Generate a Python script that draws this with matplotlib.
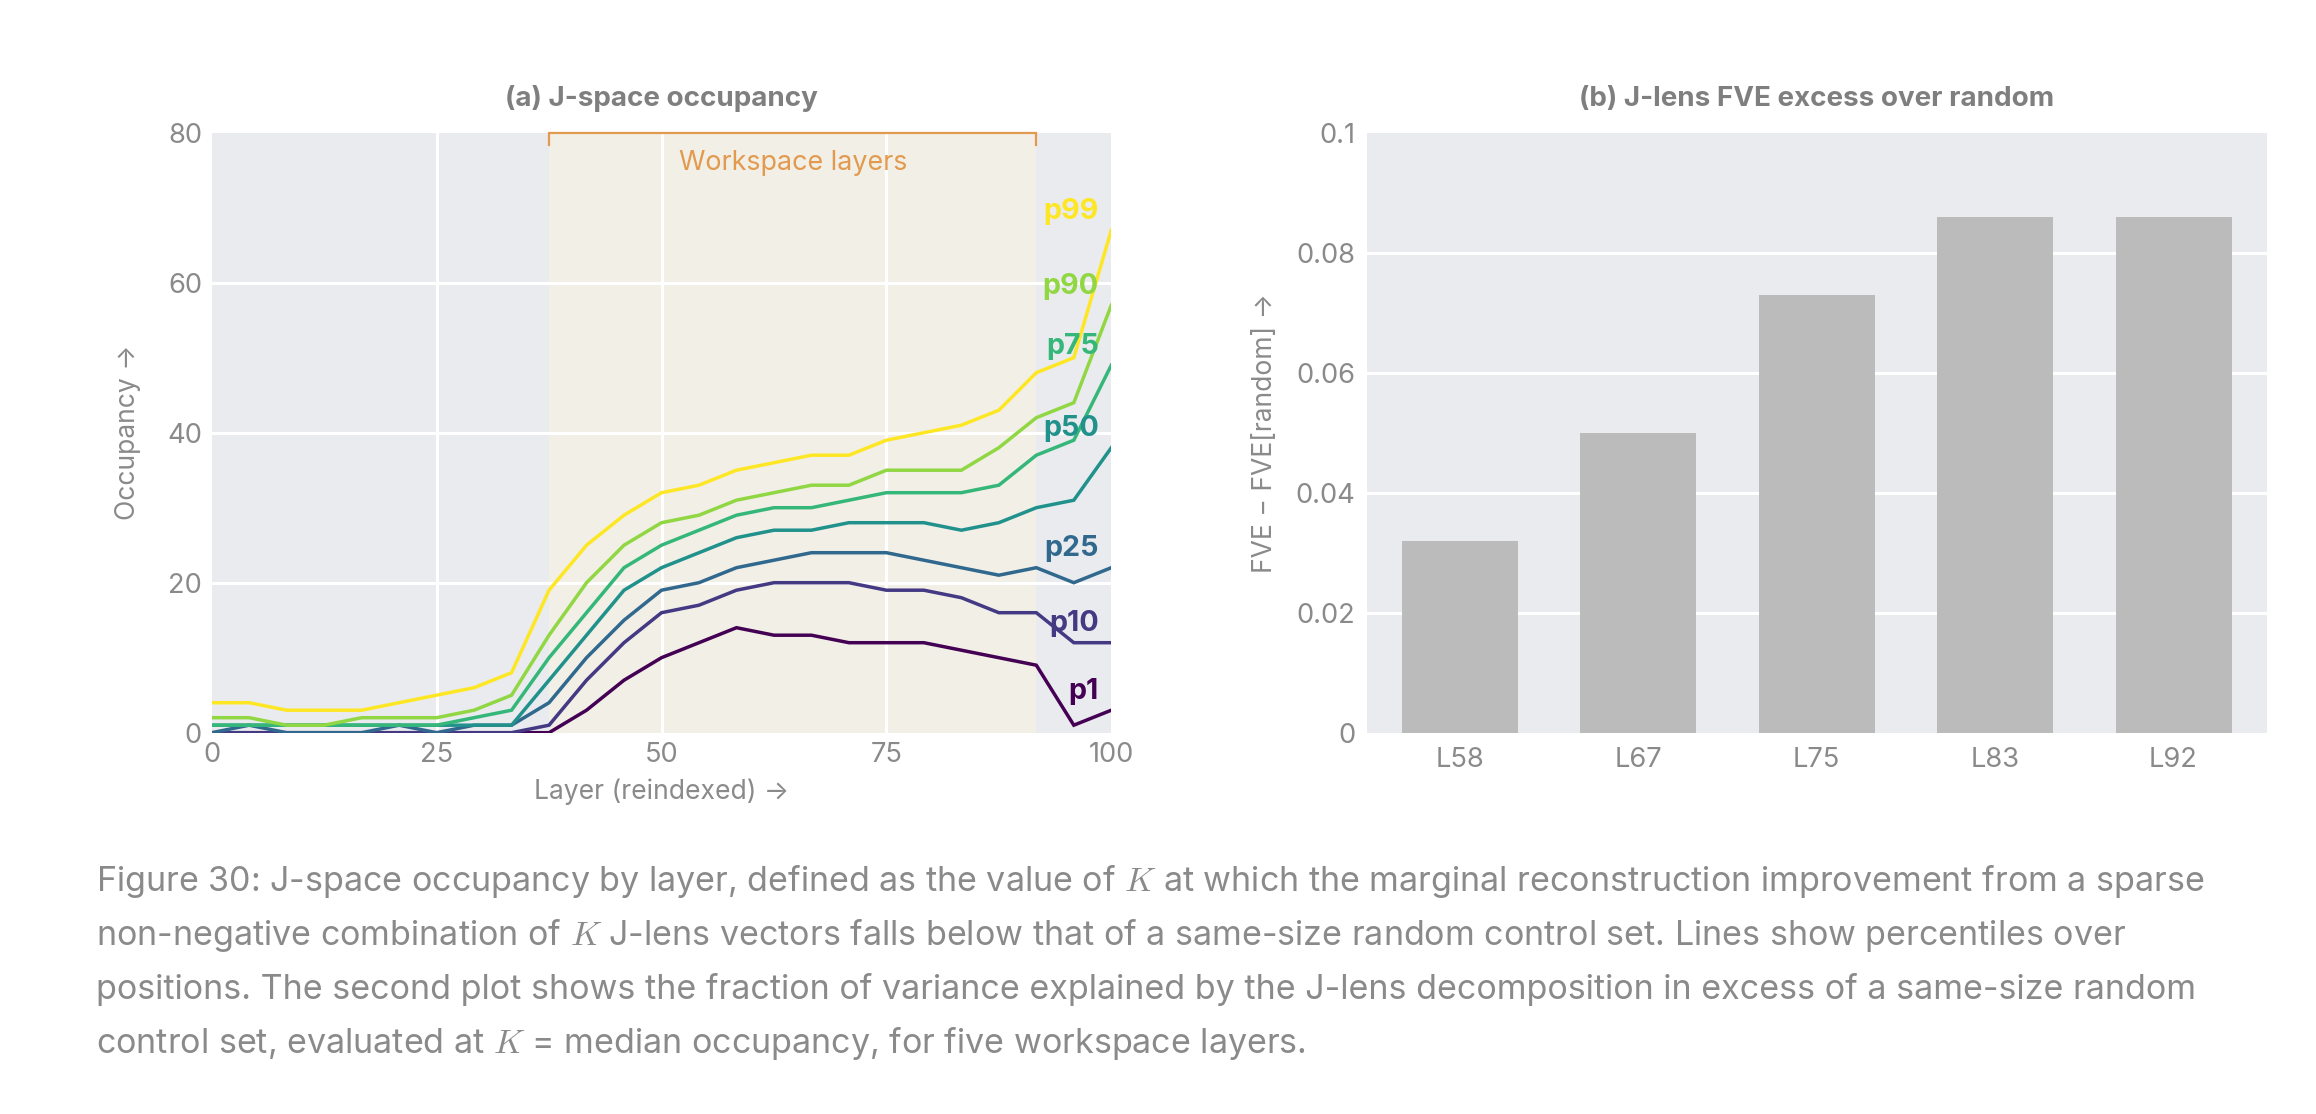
import numpy as np
import matplotlib
matplotlib.use("Agg")
import matplotlib.pyplot as plt

# ---------------- data ----------------
layers = [i * 100 / 24 for i in range(25)]
percentile_names = ["p1", "p10", "p25", "p50", "p75", "p90", "p99"]
p1 = [0, 0, 0, 0, 0, 0, 0, 0, 0, 0, 3, 7, 10, 12, 14, 13, 13, 12, 12, 12, 11, 10, 9, 1, 3]
p10 = [0, 0, 0, 0, 0, 0, 0, 0, 0, 1, 7, 12, 16, 17, 19, 20, 20, 20, 19, 19, 18, 16, 16, 12, 12]
p25 = [0, 1, 0, 0, 0, 1, 0, 1, 1, 4, 10, 15, 19, 20, 22, 23, 24, 24, 24, 23, 22, 21, 22, 20, 22]
p50 = [1, 1, 1, 1, 1, 1, 1, 1, 1, 7, 13, 19, 22, 24, 26, 27, 27, 28, 28, 28, 27, 28, 30, 31, 38]
p75 = [1, 1, 1, 1, 1, 1, 1, 2, 3, 10, 16, 22, 25, 27, 29, 30, 30, 31, 32, 32, 32, 33, 37, 39, 49]
p90 = [2, 2, 1, 1, 2, 2, 2, 3, 5, 13, 20, 25, 28, 29, 31, 32, 33, 33, 35, 35, 35, 38, 42, 44, 57]
p99 = [4, 4, 3, 3, 3, 4, 5, 6, 8, 19, 25, 29, 32, 33, 35, 36, 37, 37, 39, 40, 41, 43, 48, 50, 67]
series = [p1, p10, p25, p50, p75, p90, p99]
workspace_start = 37.5
workspace_end = 91.6667

bar_labels = ["L58", "L67", "L75", "L83", "L92"]
bar_values = [0.032, 0.050, 0.073, 0.086, 0.086]

left_xticks = [0, 25, 50, 75, 100]
left_yticks = [0, 20, 40, 60, 80]
right_yticks = [0, 0.02, 0.04, 0.06, 0.08, 0.1]
right_yticklabels = ["0", "0.02", "0.04", "0.06", "0.08", "0.1"]

caption_lines = [
    "Figure 30: J-space occupancy by layer, defined as the value of $K$ at which the marginal reconstruction improvement from a sparse",
    "non-negative combination of $K$ J-lens vectors falls below that of a same-size random control set. Lines show percentiles over",
    "positions. The second plot shows the fraction of variance explained by the J-lens decomposition in excess of a same-size random",
    "control set, evaluated at $K$ = median occupancy, for five workspace layers.",
]

# ---------------- style ----------------
FONT = ["Inter", "DejaVu Sans"]
plt.rcParams["font.family"] = FONT
plt.rcParams["mathtext.fontset"] = "cm"
GRAY = "#8a8a8a"
TITLE_GRAY = "#7f7f7f"
BG = "#eaebee"
SHADE = "#f2efe7"
ORANGE = "#e29a4f"
BAR = "#bbbbbb"
colors = [plt.cm.viridis(v) for v in np.linspace(0, 1, 7)]

W, H = 2316, 1114
fig = plt.figure(figsize=(W / 200, H / 200), dpi=200)

def frac_axes(x0, y0, x1, y1):
    return fig.add_axes([x0 / W, 1 - y1 / H, (x1 - x0) / W, (y1 - y0) / H])

axL = frac_axes(211.7, 132.7, 1111.3, 732.7)
axR = frac_axes(1366.7, 132.7, 2266.7, 732.7)

for ax in (axL, axR):
    ax.set_facecolor(BG)
    for s in ax.spines.values():
        s.set_visible(False)
    ax.tick_params(length=0, colors=GRAY, labelsize=10)
    ax.set_axisbelow(True)

# ---- left: occupancy ----
axL.axvspan(workspace_start, workspace_end, color=SHADE, zorder=0.1, lw=0)
for y in left_yticks[1:-1]:
    axL.axhline(y, color="white", lw=1.1, zorder=0.5)
for x in left_xticks[1:-1]:
    axL.axvline(x, color="white", lw=1.1, zorder=0.5)

for vals, c in zip(series, colors):
    axL.plot(layers, vals, color=c, lw=1.25, zorder=2, solid_joinstyle="miter")
plabels = []
for name, vals, c in zip(percentile_names, series, colors):
    plabels.append(axL.text(98.6, vals[-1] + 2.5, name, color=c, fontsize=11,
                            fontweight="bold", ha="right", va="center", zorder=3))

axL.set_xlim(0, 100)
axL.set_ylim(0, 80)
axL.set_xticks(left_xticks)
axL.set_yticks(left_yticks)
axL.tick_params(axis="x", pad=3.5)
axL.tick_params(axis="y", pad=3.5)

# workspace bracket
axL.plot([workspace_start, workspace_start, workspace_end, workspace_end],
         [78.3, 80, 80, 78.3], color=ORANGE, lw=0.8, clip_on=False, zorder=4,
         solid_joinstyle="miter")
ws_text = axL.text((workspace_start + workspace_end) / 2, 75.0, "Workspace layers",
                   color=ORANGE, fontsize=10, ha="center", va="baseline")

title_a = axL.text(0.5, 1.0445, "(a) J-space occupancy", transform=axL.transAxes,
                   ha="center", va="baseline", fontsize=10, fontweight="bold",
                   color=TITLE_GRAY)
xlab = axL.text(0.5, -0.099, "Layer (reindexed) →", transform=axL.transAxes,
                ha="center", va="center", fontsize=10, color=GRAY)
ylabL = axL.text(-0.093, 0.5, "Occupancy →", transform=axL.transAxes, ha="center",
                 va="center", rotation=90, fontsize=10, color=GRAY)

# ---- right: bars ----
xpos = np.arange(len(bar_labels))
for y in right_yticks[1:-1]:
    axR.axhline(y, color="white", lw=1.1, zorder=0.5)
axR.bar(xpos, bar_values, width=0.65, color=BAR, zorder=2)
axR.set_xlim(-0.522, len(bar_labels) - 1 + 0.522)
axR.set_ylim(0, 0.1)
axR.set_xticks(xpos)
axR.set_xticklabels(bar_labels)
axR.set_yticks(right_yticks)
axR.set_yticklabels(right_yticklabels)
axR.tick_params(axis="x", pad=5)
axR.tick_params(axis="y", pad=4)
title_b = axR.text(0.5, 1.0445, "(b) J-lens FVE excess over random", transform=axR.transAxes,
                   ha="center", va="baseline", fontsize=10, fontweight="bold",
                   color=TITLE_GRAY)
ylabR = axR.text(-0.113, 0.5, "FVE − FVE[random] →", transform=axR.transAxes,
                 ha="center", va="center", rotation=90, fontsize=10, color=GRAY)

# ---- caption ----
cap_y = [881, 936, 989, 1044]
cap_texts = []
for line, yy in zip(caption_lines, cap_y):
    cap_texts.append(fig.text(96 / W, 1 - yy / H, line, ha="left", va="center",
                              fontsize=12, color=GRAY))

# ---- fit text sizes to the reference's measured extents (pixels) ----
fig.canvas.draw()
renderer = fig.canvas.get_renderer()

def ext(t, dim):
    bb = t.get_window_extent(renderer)
    return bb.width if dim == "w" else bb.height

def scale_group(items, target_pairs):
    ratios = [tgt / ext(t, d) for t, tgt, d in target_pairs]
    r = float(np.mean(ratios))
    for t in items:
        t.set_fontsize(t.get_fontsize() * r)

for _ in range(2):
    scale_group(cap_texts, [(cap_texts[0], 2109, "w")])
    scale_group([title_a, title_b], [(title_b, 476, "w"), (title_a, 311, "w")])
    scale_group([ws_text], [(ws_text, 228, "w")])
    scale_group(plabels, [(plabels[-1], 55, "w")])
    scale_group([xlab, ylabL, ylabR], [(xlab, 261, "w"), (ylabL, 172, "h"), (ylabR, 278, "h")])
    tick008 = axR.get_yticklabels()[4]
    r = 59 / ext(tick008, "w")
    size = tick008.get_fontsize() * r
    for ax in (axL, axR):
        ax.tick_params(labelsize=size)
    fig.canvas.draw()

fig.savefig("out.png", dpi=200)
